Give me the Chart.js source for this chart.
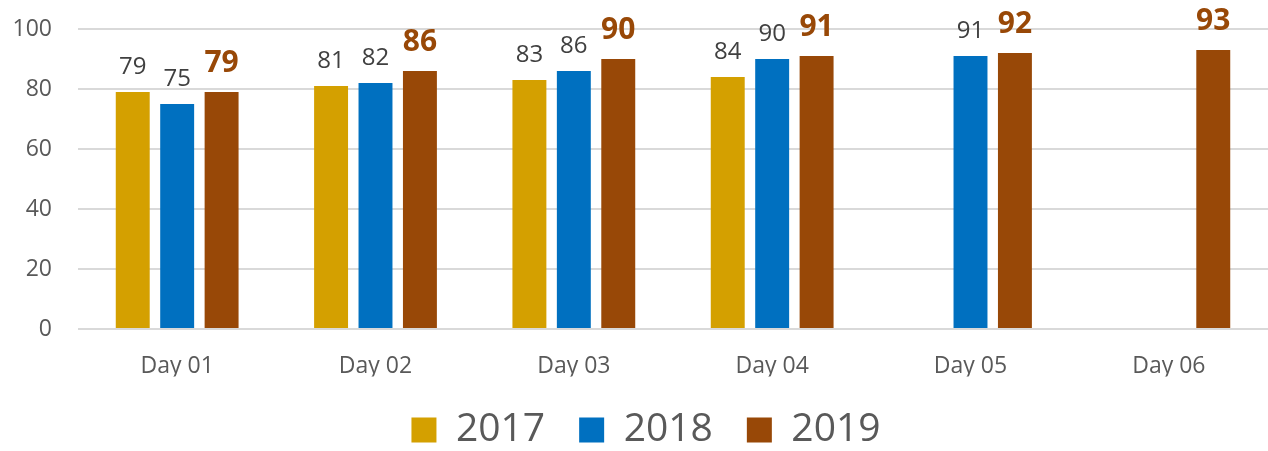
<!DOCTYPE html>
<html>
<head>
<meta charset="utf-8">
<script src="https://cdn.jsdelivr.net/npm/chart.js@4/dist/chart.umd.min.js"></script>
<style>
  html, body { margin: 0; padding: 0; background: #ffffff; }
  #wrap { width: 1268px; height: 451px; position: relative; }
</style>
</head>
<body>
<div id="wrap"><canvas id="c" width="1268" height="451"></canvas></div>
<script>
const categories = ["Day 01", "Day 02", "Day 03", "Day 04", "Day 05", "Day 06"];
const seriesNames = ["2017", "2018", "2019"];
const values2017 = [79, 81, 83, 84, null, null];
const values2018 = [75, 82, 86, 90, 91, null];
const values2019 = [79, 86, 90, 91, 92, 93];
const yTicks = [0, 20, 40, 60, 80, 100];

const colors = ["#D4A000", "#0070C0", "#984807"];
const FONT = "'Open Sans', 'DejaVu Sans', sans-serif";

const labelPlugin = {
  id: 'barLabels',
  afterDatasetsDraw(chart) {
    const ctx = chart.ctx;
    chart.data.datasets.forEach((ds, di) => {
      const meta = chart.getDatasetMeta(di);
      const bold = di === 2;
      ctx.save();
      ctx.font = (bold ? "bold 30px " : "24px ") + FONT;
      ctx.fillStyle = bold ? "#984807" : "#404040";
      ctx.textAlign = "center";
      ctx.textBaseline = "alphabetic";
      meta.data.forEach((el, i) => {
        const v = ds.data[i];
        if (v === null || v === undefined) return;
        ctx.fillText(String(v), el.x, el.y - (bold ? 20 : 18));
      });
      ctx.restore();
    });
  }
};

const legendShift = {
  id: 'legendShift',
  afterLayout(chart) {
    if (chart.legend) {
      chart.legend.left += 12;
      chart.legend.right += 12;
    }
  }
};

new Chart(document.getElementById('c'), {
  type: 'bar',
  data: {
    labels: categories,
    datasets: [
      { label: seriesNames[0], data: values2017, backgroundColor: colors[0] },
      { label: seriesNames[1], data: values2018, backgroundColor: colors[1] },
      { label: seriesNames[2], data: values2019, backgroundColor: colors[2] }
    ]
  },
  options: {
    responsive: false,
    animation: false,
    devicePixelRatio: 1,
    layout: { padding: { top: 29, left: 0, right: 0, bottom: -8.5 } },
    datasets: { bar: { categoryPercentage: 0.672, barPercentage: 0.764 } },
    scales: {
      x: {
        grid: { display: false, drawTicks: false },
        border: { display: false },
        ticks: { color: "#595959", font: { family: FONT, size: 23 }, padding: 24 },
        afterFit(scale) { scale.height = 47.5; scale.paddingLeft = 0; scale.paddingRight = 0; }
      },
      y: {
        min: 0, max: 100,
        afterBuildTicks(scale) { scale.ticks = yTicks.map(v => ({ value: v })); },
        grid: { color: "#d9d9d9", lineWidth: 2, drawTicks: false },
        border: { display: false },
        ticks: { color: "#595959", font: { family: FONT, size: 23 }, padding: 26 },
        afterFit(scale) { scale.width = 78; scale.paddingTop = 0; scale.paddingBottom = 0; }
      }
    },
    plugins: {
      tooltip: { enabled: false },
      legend: {
        position: 'bottom',
        labels: {
          boxWidth: 25, boxHeight: 25,
          color: "#595959",
          font: { family: FONT, size: 39 },
          padding: 34
        }
      }
    }
  },
  plugins: [labelPlugin, legendShift]
});
</script>
</body>
</html>
